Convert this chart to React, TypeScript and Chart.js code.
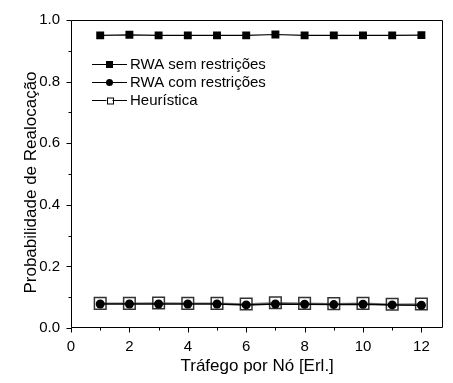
import { useEffect, useRef } from 'react';
import { Chart, registerables } from 'chart.js';

Chart.register(...registerables);

const xValues = [1, 2, 3, 4, 5, 6, 7, 8, 9, 10, 11, 12];
const rwaSemRestricoes = [0.950, 0.952, 0.950, 0.950, 0.950, 0.950, 0.953, 0.950, 0.950, 0.950, 0.950, 0.951];
const rwaComRestricoes = [0.078, 0.078, 0.078, 0.078, 0.078, 0.075, 0.078, 0.077, 0.076, 0.077, 0.075, 0.074];
const heuristica = [0.080, 0.080, 0.081, 0.080, 0.080, 0.078, 0.082, 0.080, 0.079, 0.080, 0.077, 0.078];
const seriesLabels = ['RWA sem restrições', 'RWA com restrições', 'Heurística'];
const xMajorTicks = [0, 2, 4, 6, 8, 10, 12];
const xMinorTicks = [1, 3, 5, 7, 9, 11];
const yMajorTicks = [0, 0.2, 0.4, 0.6, 0.8, 1.0];
const yMinorTicks = [0.1, 0.3, 0.5, 0.7, 0.9];
const xTitle = 'Tráfego por Nó [Erl.]';
const yTitle = 'Probabilidade de Realocação';

const FONT = '"Liberation Sans", Arial, sans-serif';

const framePlugin = {
  id: 'framePlugin',
  afterDraw(chart: any) {
    const { ctx, chartArea } = chart;
    const xs = chart.scales.x;
    const ys = chart.scales.y;
    const L = Math.round(chartArea.left) + 0.5;
    const R = Math.round(chartArea.right) - 0.5;
    const T = Math.round(chartArea.top) + 0.5;
    const B = Math.round(chartArea.bottom) - 0.5;
    ctx.save();
    ctx.strokeStyle = '#000';
    ctx.lineWidth = 1;
    ctx.beginPath();
    ctx.rect(L, T, R - L, B - T);
    ctx.stroke();
    ctx.beginPath();
    xMajorTicks.forEach((v) => {
      const p = Math.round(xs.getPixelForValue(v)) + 0.5;
      ctx.moveTo(p, B);
      ctx.lineTo(p, B + 5);
    });
    xMinorTicks.forEach((v) => {
      const p = Math.round(xs.getPixelForValue(v)) + 0.5;
      ctx.moveTo(p, B);
      ctx.lineTo(p, B + 3);
    });
    yMajorTicks.forEach((v) => {
      const p = Math.round(ys.getPixelForValue(v)) + 0.5;
      ctx.moveTo(L, p);
      ctx.lineTo(L - 5, p);
    });
    yMinorTicks.forEach((v) => {
      const p = Math.round(ys.getPixelForValue(v)) + 0.5;
      ctx.moveTo(L, p);
      ctx.lineTo(L - 3, p);
    });
    ctx.stroke();

    // y-axis title
    ctx.translate(31, (chartArea.top + chartArea.bottom) / 2 + 8.5);
    ctx.rotate(-Math.PI / 2);
    ctx.font = '17px ' + FONT;
    ctx.fillStyle = '#000';
    ctx.textAlign = 'center';
    ctx.textBaseline = 'middle';
    ctx.fillText(yTitle, 0, 0);
    ctx.restore();
  },
};

const legendPlugin = {
  id: 'customLegend',
  afterDraw(chart: any) {
    const { ctx, chartArea } = chart;
    const x0 = chartArea.left + 21;
    const x1 = chartArea.left + 56;
    const xm = (x0 + x1) / 2;
    const tx = chartArea.left + 59;
    const rows = [chartArea.top + 44, chartArea.top + 62, chartArea.top + 80];
    ctx.save();
    ctx.font = '15px ' + FONT;
    ctx.textBaseline = 'middle';
    ctx.textAlign = 'left';
    chart.data.datasets.forEach((ds: any, i: number) => {
      const y = Math.round(rows[i]) + 0.5;
      ctx.strokeStyle = '#000';
      ctx.lineWidth = 1;
      ctx.beginPath();
      ctx.moveTo(x0, y);
      ctx.lineTo(x1, y);
      ctx.stroke();
      if (i === 0) {
        ctx.fillStyle = '#000';
        ctx.fillRect(xm - 3.5, y - 3.5, 7, 7);
      } else if (i === 1) {
        ctx.fillStyle = '#000';
        ctx.beginPath();
        ctx.arc(xm, y, 3.5, 0, Math.PI * 2);
        ctx.fill();
      } else {
        ctx.fillStyle = '#fff';
        ctx.fillRect(xm - 3, y - 3, 6, 6);
        ctx.strokeStyle = '#000';
        ctx.strokeRect(Math.round(xm - 3) + 0.5, Math.round(y - 3), 6, 6);
      }
      ctx.fillStyle = '#000';
      ctx.fillText(ds.label, tx, y + 0.5);
    });
    ctx.restore();
  },
};

export default function App() {
  const canvasRef = useRef<HTMLCanvasElement | null>(null);

  useEffect(() => {
    if (!canvasRef.current) return;
    const chart = new Chart(canvasRef.current, {
      type: 'line',
      data: {
        datasets: [
          {
            label: seriesLabels[0],
            data: xValues.map((x, i) => ({ x, y: rwaSemRestricoes[i] })),
            borderColor: '#000',
            borderWidth: 1.2,
            backgroundColor: '#000',
            pointStyle: 'rect',
            pointRadius: 5.6,
            pointBorderWidth: 0,
            pointBackgroundColor: '#000',
            order: 1,
          },
          {
            label: seriesLabels[1],
            data: xValues.map((x, i) => ({ x, y: rwaComRestricoes[i] })),
            borderColor: '#000',
            borderWidth: 1.5,
            backgroundColor: '#000',
            pointStyle: 'circle',
            pointRadius: 4.5,
            pointBorderWidth: 0,
            pointBackgroundColor: '#000',
            order: 2,
          },
          {
            label: seriesLabels[2],
            data: xValues.map((x, i) => ({ x, y: heuristica[i] })),
            borderColor: '#7a7a7a',
            borderWidth: 1.5,
            backgroundColor: 'rgba(0,0,0,0)',
            pointStyle: 'rect',
            pointRadius: 8.2,
            pointBorderWidth: 1.5,
            pointBorderColor: '#333',
            pointBackgroundColor: 'rgba(0,0,0,0)',
            order: 3,
          },
        ],
      },
      options: {
        animation: false,
        responsive: false,
        maintainAspectRatio: false,
        layout: { padding: { top: 20, right: 3, left: 0, bottom: 0 } },
        plugins: {
          legend: { display: false },
          tooltip: { enabled: false },
        },
        elements: { line: { tension: 0 } },
        scales: {
          x: {
            type: 'linear',
            min: 0,
            max: 12.75,
            grid: { display: false, drawTicks: false },
            border: { display: false },
            afterBuildTicks: (scale: any) => {
              scale.ticks = xMajorTicks.map((v) => ({ value: v }));
            },
            afterFit: (scale: any) => {
              scale.height = 55;
            },
            ticks: {
              autoSkip: false,
              maxRotation: 0,
              padding: 9.5,
              color: '#000',
              font: { size: 15, family: FONT },
              callback: (v: any) => String(v),
            },
            title: {
              display: true,
              text: xTitle,
              color: '#000',
              font: { size: 17, family: FONT },
              padding: { top: 0, bottom: 6 },
            },
          },
          y: {
            type: 'linear',
            min: 0,
            max: 1,
            grid: { display: false, drawTicks: false },
            border: { display: false },
            afterBuildTicks: (scale: any) => {
              scale.ticks = yMajorTicks.map((v) => ({ value: v }));
            },
            afterFit: (scale: any) => {
              scale.width = 71;
            },
            ticks: {
              autoSkip: false,
              padding: 11,
              color: '#000',
              font: { size: 15, family: FONT },
              callback: (v: any) => Number(v).toFixed(1),
            },
            title: { display: false },
          },
        },
      },
      plugins: [framePlugin, legendPlugin],
    });
    return () => chart.destroy();
  }, []);

  return (
    <div style={{ position: 'fixed', left: 0, top: 0, width: 453, height: 383, background: '#fff' }}>
      <canvas ref={canvasRef} width={453} height={383} style={{ display: 'block' }} />
    </div>
  );
}
